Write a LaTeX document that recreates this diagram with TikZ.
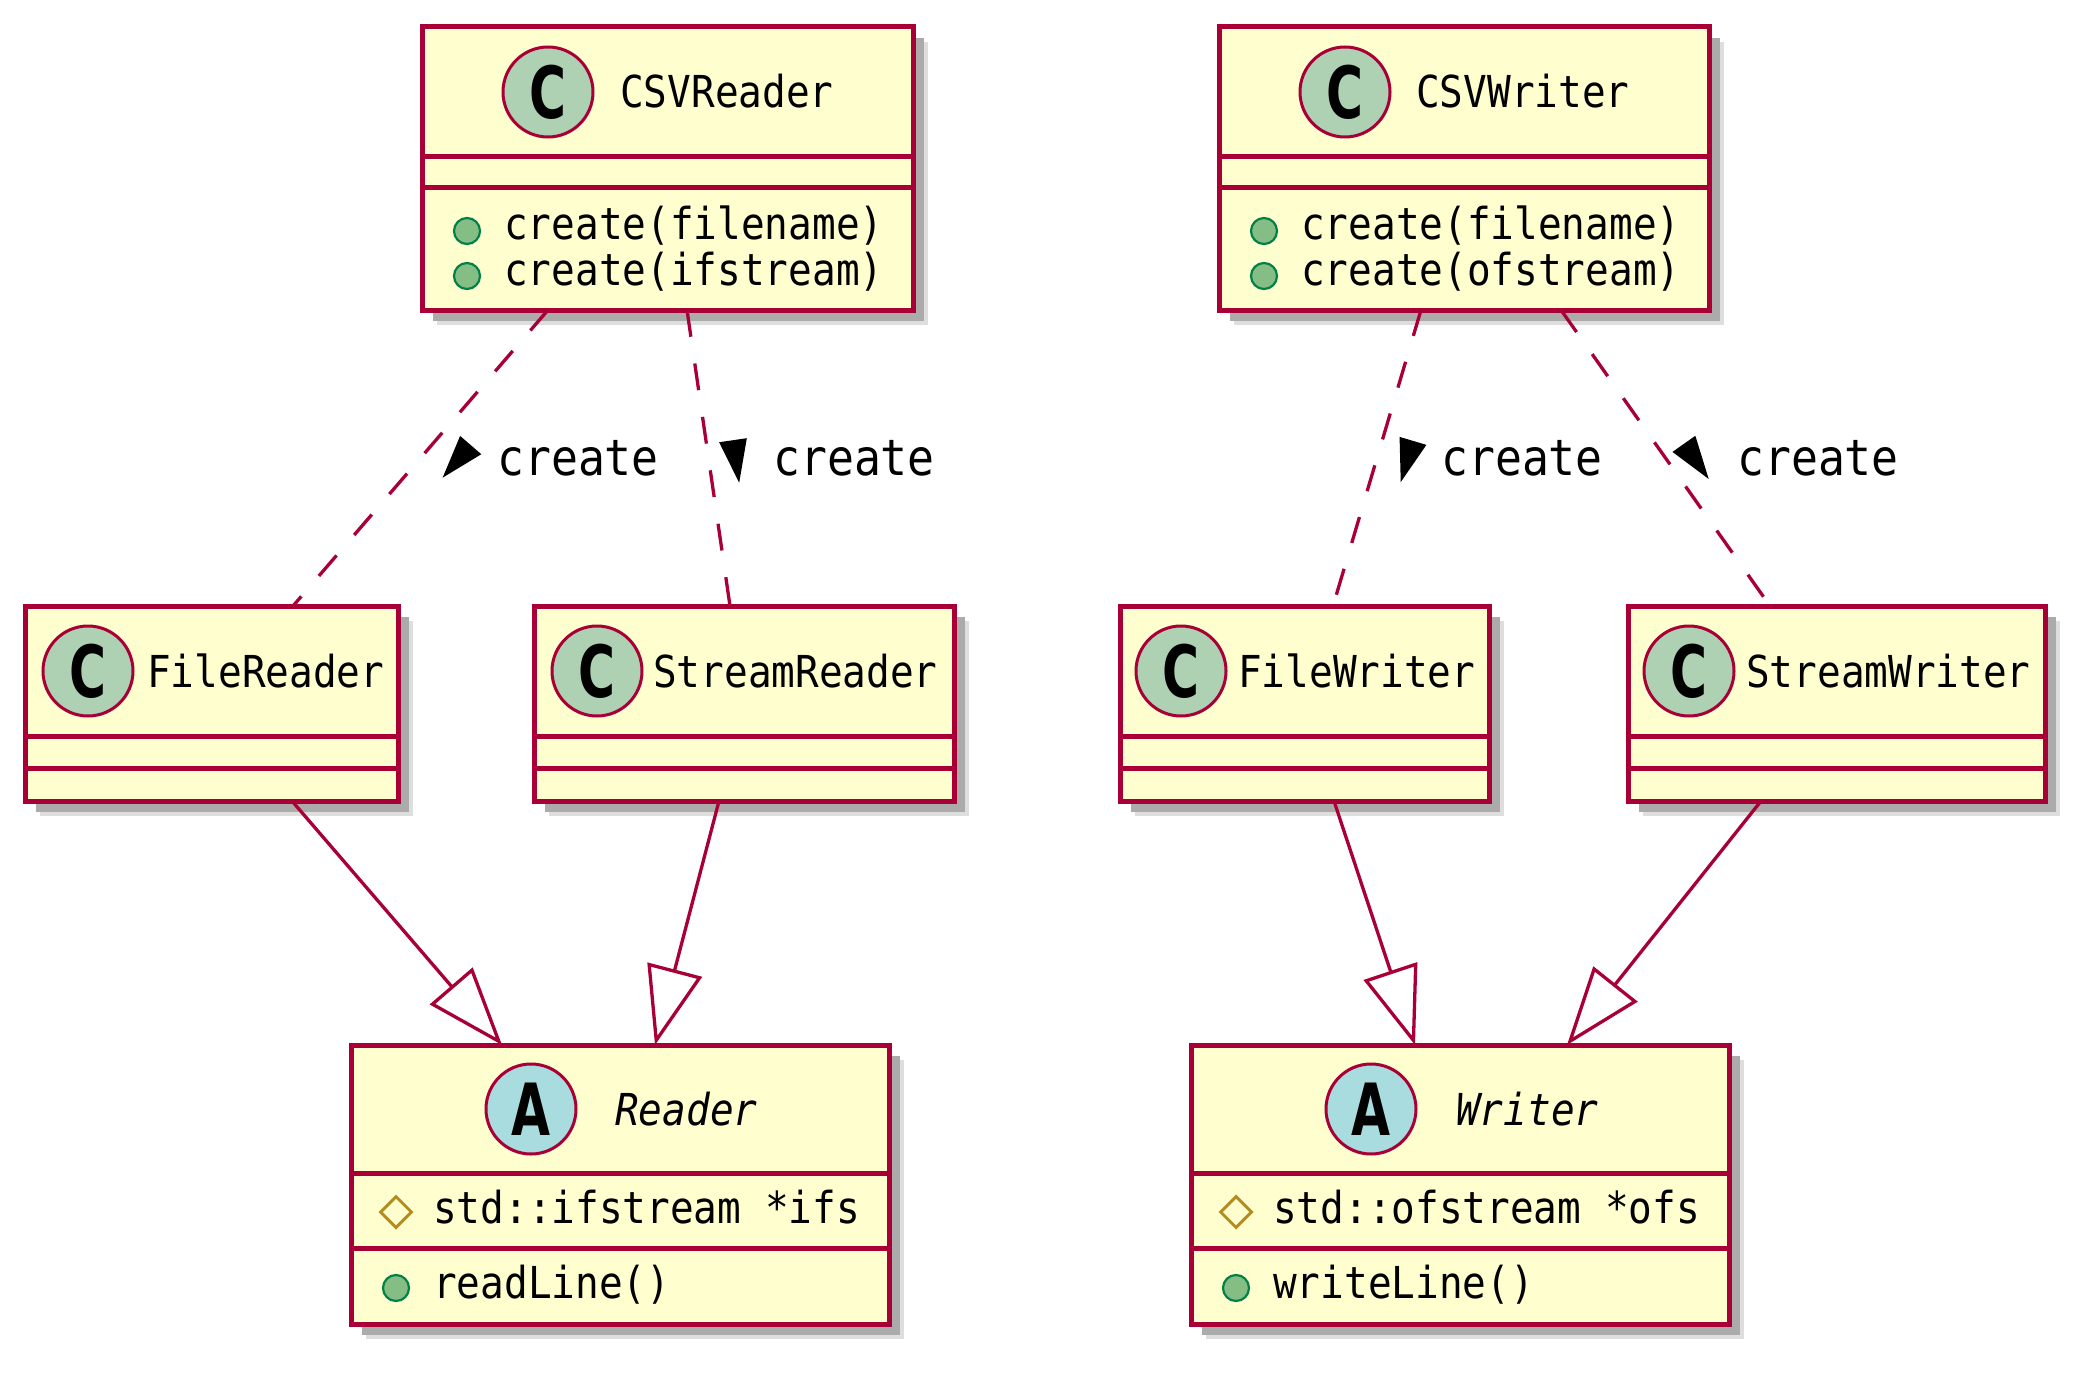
\documentclass[tikz,border=0pt]{standalone}
\usepackage{fontspec}
\usetikzlibrary{arrows.meta,shadows,shapes.geometric}
\newfontfamily\umono[FakeStretch=0.895]{DejaVu Sans Mono}
\newfontfamily\uicon[FakeStretch=0.7]{DejaVu Sans}
\definecolor{umlborder}{HTML}{A80036}
\definecolor{boxfill}{HTML}{FEFECE}
\definecolor{iconC}{HTML}{ADD1B2}
\definecolor{iconA}{HTML}{A9DCDF}
\definecolor{pubfill}{HTML}{84BE84}
\definecolor{publine}{HTML}{038048}
\definecolor{protline}{HTML}{B38D22}
\tikzset{
  classbox/.style={rectangle, draw=umlborder, line width=5pt, fill=boxfill,
    inner sep=0pt, outer sep=0pt,
    general shadow={shadow xshift=15pt, shadow yshift=-15pt, fill=black!13},
    general shadow={shadow xshift=11pt, shadow yshift=-11pt, fill=black!33}},
  sepline/.style={draw=umlborder, line width=5pt},
  icon/.style={circle, draw=umlborder, line width=3pt, minimum size=90pt, inner sep=0pt,
    font=\uicon\bfseries\fontsize{72}{72}\selectfont},
  ctext/.style={anchor=base west, inner sep=0pt, font=\umono\fontsize{44}{44}\selectfont},
  itext/.style={anchor=base west, inner sep=0pt, font=\umono\itshape\fontsize{44}{44}\selectfont},
  lbl/.style={anchor=base west, inner sep=0pt, font=\umono\fontsize{50}{50}\selectfont},
  pub/.style={circle, fill=pubfill, draw=publine, line width=2.2pt, minimum size=26pt, inner sep=0pt},
  prot/.style={diamond, draw=protline, line width=3pt, minimum width=32pt, minimum height=32pt, inner sep=0pt, aspect=1},
  dep/.style={draw=umlborder, line width=3.3pt, dash pattern=on 27pt off 27pt},
  ext/.style={draw=umlborder, line width=3.3pt, -{Triangle[open, length=78pt, width=56pt]}},
  dirtri/.style={fill=black},
}
\begin{document}
\begin{tikzpicture}[x=1pt, y=-1pt]
\fill[white] (0,0) rectangle (2096,1375);
\useasboundingbox (0,0) rectangle (2096,1375);

% ---------- top row ----------
\node[classbox, minimum width=491pt, minimum height=283pt] (csvr) at (667.5,168.5) {};
\draw[sepline] ([yshift=-130pt]csvr.north west) -- ([yshift=-130pt]csvr.north east);
\draw[sepline] ([yshift=-161pt]csvr.north west) -- ([yshift=-161pt]csvr.north east);
\node[icon, fill=iconC] (csvr-i) at (548,92) {C};
\node[ctext] (csvr-n) at (620,108) {CSVReader};
\node[pub] (csvr-d1) at (467,231) {};
\node[ctext] (csvr-m1) at (504,240) {create(filename)};
\node[pub] (csvr-d2) at (467,276) {};
\node[ctext] (csvr-m2) at (504,285) {create(ifstream)};

\node[classbox, minimum width=490pt, minimum height=283pt] (csvw) at (1464,168.5) {};
\draw[sepline] ([yshift=-130pt]csvw.north west) -- ([yshift=-130pt]csvw.north east);
\draw[sepline] ([yshift=-161pt]csvw.north west) -- ([yshift=-161pt]csvw.north east);
\node[icon, fill=iconC] (csvw-i) at (1345,92) {C};
\node[ctext] (csvw-n) at (1416,108) {CSVWriter};
\node[pub] (csvw-d1) at (1264,231) {};
\node[ctext] (csvw-m1) at (1301,240) {create(filename)};
\node[pub] (csvw-d2) at (1264,276) {};
\node[ctext] (csvw-m2) at (1301,285) {create(ofstream)};

% ---------- middle row ----------
\node[classbox, minimum width=373pt, minimum height=195pt] (fr) at (211.5,703.5) {};
\draw[sepline] ([yshift=-130pt]fr.north west) -- ([yshift=-130pt]fr.north east);
\draw[sepline] ([yshift=-162pt]fr.north west) -- ([yshift=-162pt]fr.north east);
\node[icon, fill=iconC] (fr-i) at (88,671) {C};
\node[ctext] (fr-n) at (147,687) {FileReader};

\node[classbox, minimum width=420pt, minimum height=195pt] (sr) at (744,703.5) {};
\draw[sepline] ([yshift=-130pt]sr.north west) -- ([yshift=-130pt]sr.north east);
\draw[sepline] ([yshift=-162pt]sr.north west) -- ([yshift=-162pt]sr.north east);
\node[icon, fill=iconC] (sr-i) at (597,671) {C};
\node[ctext] (sr-n) at (653,687) {StreamReader};

\node[classbox, minimum width=369pt, minimum height=195pt] (fw) at (1304.5,703.5) {};
\draw[sepline] ([yshift=-130pt]fw.north west) -- ([yshift=-130pt]fw.north east);
\draw[sepline] ([yshift=-162pt]fw.north west) -- ([yshift=-162pt]fw.north east);
\node[icon, fill=iconC] (fw-i) at (1181,671) {C};
\node[ctext] (fw-n) at (1238,687) {FileWriter};

\node[classbox, minimum width=417pt, minimum height=195pt] (sw) at (1836.5,703.5) {};
\draw[sepline] ([yshift=-130pt]sw.north west) -- ([yshift=-130pt]sw.north east);
\draw[sepline] ([yshift=-162pt]sw.north west) -- ([yshift=-162pt]sw.north east);
\node[icon, fill=iconC] (sw-i) at (1689,671) {C};
\node[ctext] (sw-n) at (1746,687) {StreamWriter};

% ---------- bottom row ----------
\node[classbox, minimum width=538pt, minimum height=279pt] (rd) at (620,1184.5) {};
\draw[sepline] ([yshift=-128pt]rd.north west) -- ([yshift=-128pt]rd.north east);
\draw[sepline] ([yshift=-203pt]rd.north west) -- ([yshift=-203pt]rd.north east);
\node[icon, fill=iconA] (rd-i) at (531,1109) {A};
\node[itext] (rd-n) at (615,1125) {Reader};
\node[prot] (rd-d1) at (396,1212) {};
\node[ctext] (rd-a1) at (433,1223) {std::ifstream *ifs};
\node[pub] (rd-d2) at (396,1288) {};
\node[ctext] (rd-m1) at (433,1298) {readLine()};

\node[classbox, minimum width=538pt, minimum height=279pt] (wr) at (1460,1184.5) {};
\draw[sepline] ([yshift=-128pt]wr.north west) -- ([yshift=-128pt]wr.north east);
\draw[sepline] ([yshift=-203pt]wr.north west) -- ([yshift=-203pt]wr.north east);
\node[icon, fill=iconA] (wr-i) at (1371,1109) {A};
\node[itext] (wr-n) at (1456,1125) {Writer};
\node[prot] (wr-d1) at (1236,1212) {};
\node[ctext] (wr-a1) at (1273,1223) {std::ofstream *ofs};
\node[pub] (wr-d2) at (1236,1288) {};
\node[ctext] (wr-m1) at (1273,1298) {writeLine()};

% ---------- create dependencies ----------
\draw[dep] ([xshift=126pt]csvr.south west) -- ([xshift=268pt]fr.north west);
\draw[dep] ([xshift=265pt]csvr.south west) -- ([xshift=196pt]sr.north west);
\draw[dep] ([xshift=202pt]csvw.south west) -- ([xshift=213pt]fw.north west);
\draw[dep] ([xshift=342pt]csvw.south west) -- ([xshift=142pt]sw.north west);

\fill[dirtri, shift={(457,461)}, rotate=-130.74] (22,0) -- (-21,14) -- (-21,-14) -- cycle;
\fill[dirtri, shift={(736,461)}, rotate=-81.73] (22,0) -- (-21,14) -- (-21,-14) -- cycle;
\fill[dirtri, shift={(1407,461)}, rotate=-106.56] (22,0) -- (-21,14) -- (-21,-14) -- cycle;
\fill[dirtri, shift={(1696,461)}, rotate=-54.78] (22,0) -- (-21,14) -- (-21,-14) -- cycle;
\node[lbl] (l1) at (497,475) {create};
\node[lbl] (l2) at (773,475) {create};
\node[lbl] (l3) at (1441,475) {create};
\node[lbl] (l4) at (1737,475) {create};

% ---------- generalisations ----------
\draw[ext] ([xshift=267pt]fr.south west) -- ([xshift=151pt]rd.north west);
\draw[ext] ([xshift=185pt]sr.south west) -- ([xshift=304pt]rd.north west);
\draw[ext] ([xshift=214pt]fw.south west) -- ([xshift=224pt]wr.north west);
\draw[ext] ([xshift=133pt]sw.south west) -- ([xshift=376pt]wr.north west);
\end{tikzpicture}
\end{document}
